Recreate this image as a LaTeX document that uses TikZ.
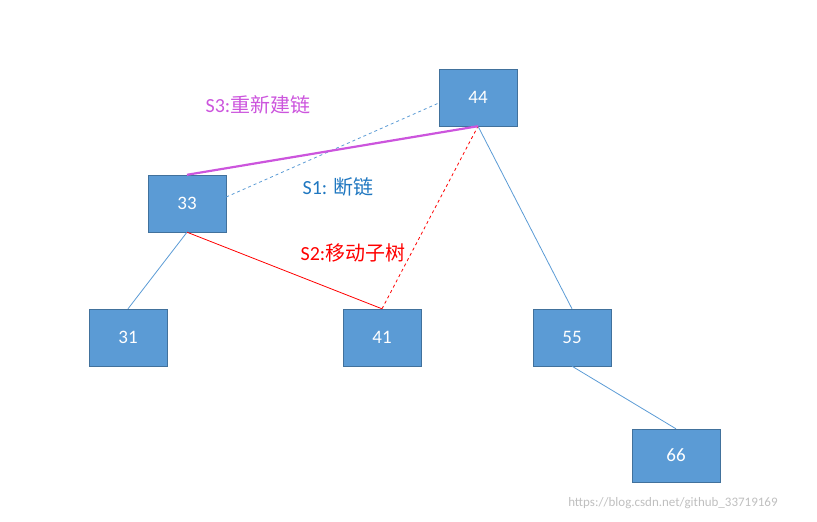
\documentclass[tikz,border=0pt]{standalone}
\usepackage{fontspec}
\setmainfont{Carlito}
\newfontfamily\cjk{Noto Sans CJK SC}
\definecolor{boxfill}{HTML}{5B9BD5}
\definecolor{boxline}{HTML}{41719C}
\definecolor{mag}{HTML}{CC55DD}
\definecolor{sblue}{HTML}{1F77C0}
\begin{document}
\begin{tikzpicture}[x=1pt,y=-1pt,
  box/.style={draw=boxline,fill=boxfill,text=white,minimum width=78pt,minimum height=57pt,inner sep=0pt,font=\fontsize{19pt}{22pt}\selectfont},
  edge/.style={draw=boxfill,line width=0.8pt},
  lbl/.style={font=\fontsize{20pt}{24pt}\selectfont}]
\useasboundingbox (0,0) rectangle (817,522);
\node[box] (n44) at (478,97.5) {44};
\node[box] (n33) at (187,203.5) {33};
\node[box] (n31) at (128,337.5) {31};
\node[box] (n41) at (382,337.5) {41};
\node[box] (n55) at (572,337.5) {55};
\node[box,minimum width=88pt,minimum height=53pt] (n66) at (676,455.5) {66};
\draw[edge] (n44.south) -- (n55.north);
\draw[edge] (n33.south) -- (n31.north);
\draw[edge] (n55.south) -- (n66.north);
\draw[red,line width=0.8pt] (n33.south) -- (n41.north);
\draw[red,dashed,line width=0.8pt] (n41.north) -- (n44.south);
\draw[boxfill,dashed,line width=0.8pt] ([yshift=6.5pt]n33.east) -- ([yshift=-5.5pt]n44.west);
\draw[mag,line width=2.2pt] (n33.north) -- (n44.south);
\node[lbl,text=mag] (l3) at (258,105) {S3:{\cjk 重新建链}};
\node[lbl,text=sblue] (l1) at (338,187) {S1: {\cjk 断链}};
\node[lbl,text=red] (l2) at (353,253) {S2:{\cjk 移动子树}};
\node[text=gray!50,font=\fontsize{13pt}{15pt}\selectfont] (wm) at (673,503) {https://blog.csdn.net/github\_33719169};
\end{tikzpicture}
\end{document}
